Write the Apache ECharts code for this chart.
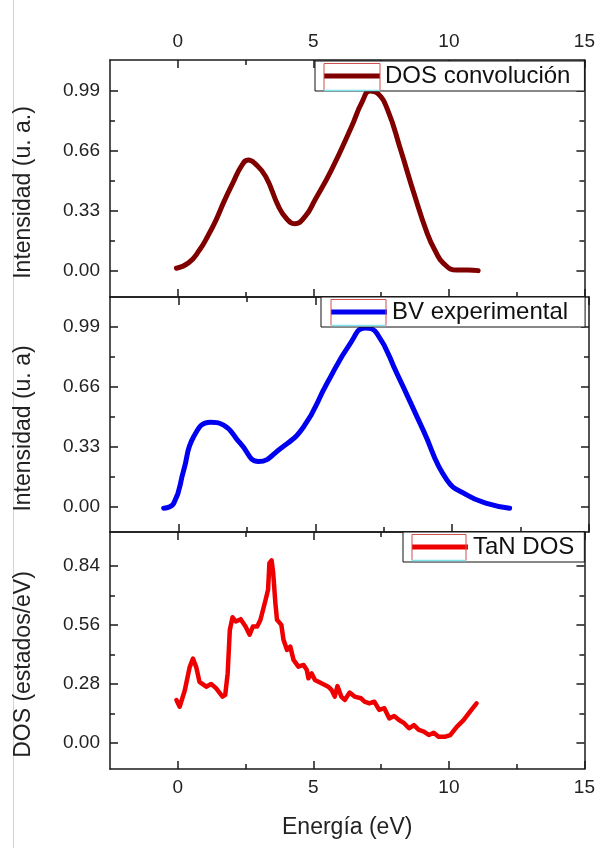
<!DOCTYPE html>
<html>
<head>
<meta charset="utf-8">
<script src="https://cdn.jsdelivr.net/npm/echarts@6/dist/echarts.min.js"></script>
<style>
  html, body { margin: 0; padding: 0; background: #fff; }
  #chart { width: 598px; height: 848px; }
</style>
</head>
<body>
<div id="chart"></div>
<script>
// Energy axis ticks (eV)
const energyTicks = [0, 5, 10, 15];
const energyMinorTicks = [2.5, 7.5, 12.5];

// Intensity axes (top and middle panels)
const intensityTicks = [0, 0.33, 0.66, 0.99];
const intensityMinorTicks = [0.165, 0.495, 0.825];

// DOS axis (bottom panel)
const dosTicks = [0, 0.28, 0.56, 0.84];
const dosMinorTicks = [0.14, 0.42, 0.70];

// Top panel: convoluted DOS
const convEnergy = [-0.05, 0.4, 0.8, 1.1, 1.41, 1.7, 2.02, 2.38, 2.6, 2.85, 3.24, 3.72, 4.0, 4.31, 4.7, 5.06, 5.67, 6.4, 6.8, 7.1, 7.37, 7.74, 8.22, 8.71, 9.2, 9.5, 9.8, 10.29, 10.7, 11.08];
const convDOS    = [0.015, 0.045, 0.115, 0.19, 0.28, 0.38, 0.48, 0.585, 0.61, 0.59, 0.52, 0.354, 0.29, 0.26, 0.3, 0.39, 0.556, 0.79, 0.93, 0.99, 0.977, 0.886, 0.666, 0.427, 0.207, 0.11, 0.042, 0.005, 0.006, 0.002];

// Middle panel: experimental valence band
const bvEnergy = [-0.54, -0.17, 0.19, 0.56, 1.17, 1.65, 2.26, 2.93, 3.72, 4.57, 5.43, 6.28, 6.82, 7.25, 7.98, 8.95, 9.8, 10.53, 11.26, 12.1];
const bvExp    = [-0.007, 0.02, 0.2, 0.387, 0.466, 0.45, 0.35, 0.25, 0.32, 0.44, 0.68, 0.9, 0.985, 0.955, 0.735, 0.42, 0.15, 0.066, 0.02, -0.007];

// Bottom panel: TaN density of states
const tanEnergy = [-0.05, 0.07, 0.26, 0.44, 0.56, 0.68, 0.8, 1.05, 1.23, 1.41, 1.65, 1.75, 1.84, 1.92, 2.02, 2.14, 2.32, 2.5, 2.65, 2.77, 2.93, 3.05, 3.24, 3.33, 3.38, 3.46, 3.52, 3.6, 3.66, 3.82, 3.9, 4.03, 4.15, 4.27, 4.45, 4.64, 4.76, 4.82, 4.94, 5.06, 5.3, 5.55, 5.67, 5.79, 5.89, 6.03, 6.16, 6.34, 6.52, 6.76, 6.89, 7.07, 7.25, 7.43, 7.62, 7.8, 7.98, 8.16, 8.35, 8.53, 8.71, 8.89, 9.08, 9.26, 9.44, 9.62, 9.87, 10.05, 10.29, 10.54, 10.78, 11.02];
const tanDOS    = [0.204, 0.172, 0.25, 0.36, 0.40, 0.36, 0.29, 0.267, 0.28, 0.26, 0.22, 0.228, 0.33, 0.536, 0.596, 0.576, 0.587, 0.552, 0.513, 0.552, 0.552, 0.584, 0.679, 0.726, 0.853, 0.866, 0.805, 0.663, 0.584, 0.56, 0.489, 0.441, 0.457, 0.394, 0.362, 0.37, 0.346, 0.307, 0.33, 0.299, 0.283, 0.267, 0.252, 0.22, 0.27, 0.22, 0.204, 0.239, 0.22, 0.212, 0.196, 0.188, 0.196, 0.157, 0.165, 0.117, 0.128, 0.109, 0.094, 0.07, 0.085, 0.062, 0.054, 0.038, 0.049, 0.03, 0.03, 0.038, 0.077, 0.109, 0.149, 0.188];

const zip = (xs, ys) => xs.map((x, i) => [x, ys[i]]);

const FONT = '"Liberation Sans", Arial, sans-serif';
const AXIS_COLOR = '#1a1a1a';
const TEXT_COLOR = '#222';

const grids = [
  { left: 110, right: 9, top: 60,  height: 237 },
  { left: 110, right: 9, top: 297, height: 235 },
  { left: 110, right: 9, top: 532, height: 237 }
];

const yRanges = [
  { min: -0.143, max: 1.16,  ticks: intensityTicks, minor: intensityMinorTicks, name: 'Intensidad (u. a.)' },
  { min: -0.138, max: 1.155, ticks: intensityTicks, minor: intensityMinorTicks, name: 'Intensidad (u. a)' },
  { min: -0.123, max: 1.0,   ticks: dosTicks,       minor: dosMinorTicks,       name: 'DOS (estados/eV)' }
];

const xAxes = [];
const yAxes = [];
const majorX = []; // index of the major bottom x axis per grid
const majorY = []; // index of the major left y axis per grid

// Each frame side gets a major axis (line, long ticks, labels) and a minor one (short ticks only)
function addAxisPair(list, base, majorValues, minorValues, label) {
  const idx = list.length;
  list.push(Object.assign({}, base, {
    axisLine: { show: true, onZero: false, lineStyle: { color: AXIS_COLOR, width: 1.5 } },
    axisTick: { show: true, inside: true, length: 8, customValues: majorValues, lineStyle: { color: AXIS_COLOR, width: 1.5 } },
    axisLabel: label ? Object.assign({ customValues: majorValues }, label) : { show: false },
    splitLine: { show: false }
  }));
  list.push(Object.assign({}, base, {
    name: '',
    axisLine: { show: false, onZero: false },
    axisTick: { show: true, inside: true, length: 5, customValues: minorValues, lineStyle: { color: AXIS_COLOR, width: 1.5 } },
    axisLabel: { show: false },
    splitLine: { show: false }
  }));
  return idx;
}

grids.forEach((g, gi) => {
  const xBase = { type: 'value', gridIndex: gi, min: -2.5, max: 15 };
  // bottom energy axis
  const bottomLabel = gi === 2 ? {
    show: true, margin: 9, color: TEXT_COLOR, fontSize: 19, fontFamily: FONT,
    formatter: v => String(v)
  } : null;
  const bottomBase = Object.assign({ position: 'bottom' }, xBase);
  if (gi === 2) {
    Object.assign(bottomBase, {
      name: 'Energía (eV)', nameLocation: 'middle', nameGap: 47,
      nameTextStyle: { color: TEXT_COLOR, fontSize: 23, fontFamily: FONT }
    });
  }
  majorX.push(addAxisPair(xAxes, bottomBase, energyTicks, energyMinorTicks, bottomLabel));
  // top energy axis
  const topLabel = gi === 0 ? {
    show: true, margin: 9, color: TEXT_COLOR, fontSize: 19, fontFamily: FONT,
    formatter: v => String(v)
  } : null;
  addAxisPair(xAxes, Object.assign({ position: 'top' }, xBase), energyTicks, energyMinorTicks, topLabel);

  const r = yRanges[gi];
  const yBase = { type: 'value', gridIndex: gi, min: r.min, max: r.max };
  const leftBase = Object.assign({
    position: 'left',
    name: r.name, nameLocation: 'middle', nameGap: 75, nameRotate: 90,
    nameTextStyle: { color: TEXT_COLOR, fontSize: 23, fontFamily: FONT, padding: [0, 28, 0, 0] }
  }, yBase);
  majorY.push(addAxisPair(yAxes, leftBase, r.ticks, r.minor, {
    show: true, margin: 10, color: TEXT_COLOR, fontSize: 19, fontFamily: FONT, formatter: v => v.toFixed(2)
  }));
  addAxisPair(yAxes, Object.assign({ position: 'right' }, yBase), r.ticks, r.minor, null);
});

const seriesDefs = [
  { name: 'DOS convolución', data: zip(convEnergy, convDOS), color: '#800000', width: 5,   smooth: 0.5 },
  { name: 'BV experimental', data: zip(bvEnergy, bvExp),     color: '#0000f0', width: 5,   smooth: 0.5 },
  { name: 'TaN DOS',         data: zip(tanEnergy, tanDOS),   color: '#ee0000', width: 4.5, smooth: false }
];

const series = seriesDefs.map((s, i) => ({
  name: s.name,
  type: 'line',
  xAxisIndex: majorX[i],
  yAxisIndex: majorY[i],
  data: s.data,
  symbol: 'none',
  smooth: s.smooth,
  color: s.color,
  lineStyle: { color: s.color, width: s.width, cap: 'round', join: 'round' },
  emphasis: { disabled: true },
  z: 3
}));

const legendBase = {
  orient: 'horizontal',
  backgroundColor: '#fff',
  borderColor: '#111',
  borderWidth: 1,
  borderRadius: 0,
  icon: 'rect',
  itemWidth: 56,
  itemHeight: 5,
  itemGap: 5,
  selectedMode: false,
  textStyle: { color: '#111', fontSize: 24, fontFamily: FONT, lineHeight: 24 },
  z: 10
};

const legends = [
  Object.assign({}, legendBase, { data: ['DOS convolución'], left: 315, top: 61, padding: [3, 14, 3, 9] }),
  Object.assign({}, legendBase, { data: ['BV experimental'], left: 321, top: 297, padding: [3, 17, 3, 10] }),
  Object.assign({}, legendBase, { data: ['TaN DOS'], left: 403, top: 532, padding: [3, 10, 3, 9] })
];

// Selection frame drawn around each legend sample line
function sampleFrame(x, y, w, h) {
  return [
    { type: 'rect', shape: { x: x, y: y, width: w, height: h }, style: { fill: null, stroke: '#d05050', lineWidth: 1 }, z: 20, silent: true },
    { type: 'line', shape: { x1: x, y1: y + h, x2: x + w, y2: y + h }, style: { stroke: '#7fe3ee', lineWidth: 1.5 }, z: 21, silent: true }
  ];
}

const graphic = [
  { type: 'line', shape: { x1: 13.5, y1: 0, x2: 13.5, y2: 848 }, style: { stroke: '#d4d4d4', lineWidth: 1 }, silent: true }
].concat(sampleFrame(324, 63.5, 56, 27), sampleFrame(331, 299.5, 55, 26), sampleFrame(412, 534.5, 54, 26));

const chart = echarts.init(document.getElementById('chart'), null, { renderer: 'canvas' });
chart.setOption({
  backgroundColor: '#fff',
  animation: false,
  grid: grids,
  xAxis: xAxes,
  yAxis: yAxes,
  legend: legends,
  series: series,
  graphic: graphic
});
</script>
</body>
</html>
